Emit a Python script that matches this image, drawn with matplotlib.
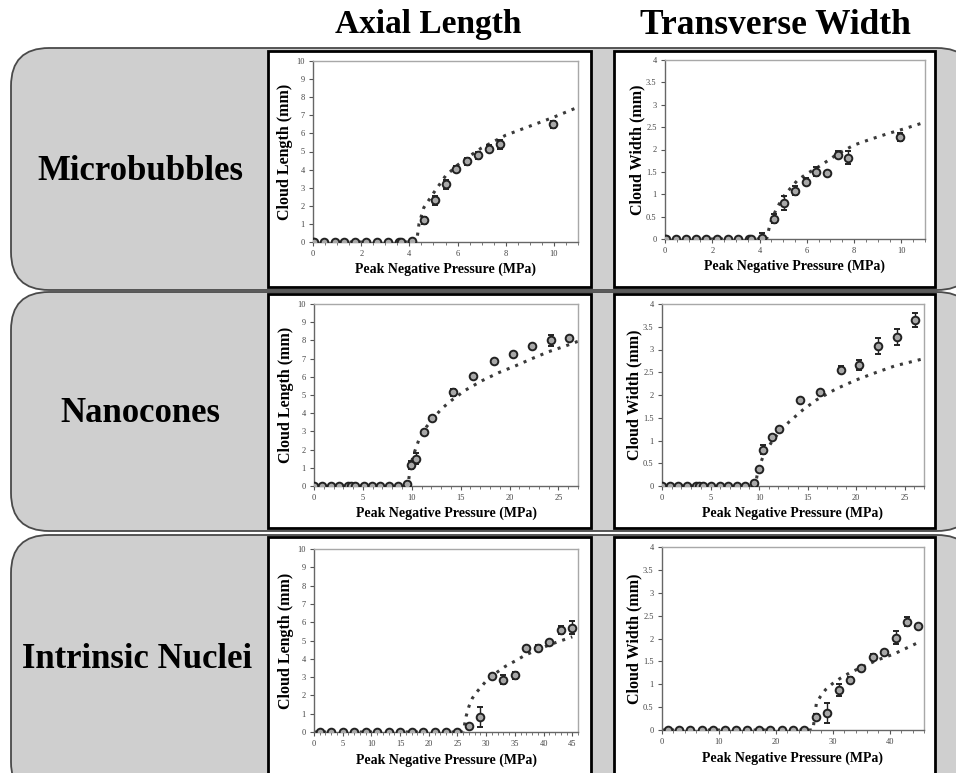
import numpy as np
import matplotlib
matplotlib.use('Agg')
import matplotlib.pyplot as plt
from matplotlib.patches import FancyBboxPatch, Rectangle
from matplotlib.ticker import MultipleLocator, FuncFormatter

plt.rcParams['font.family'] = ['Liberation Serif', 'DejaVu Serif']

# column / row headings
col_titles = ['Axial Length', 'Transverse Width']
row_titles = ['Microbubbles', 'Nanocones', 'Intrinsic Nuclei']

# microbubbles
mb_pressure = [0.0, 0.05, 0.45, 0.9, 1.3, 1.75, 2.2, 2.65, 3.1, 3.55, 3.65, 4.1,
               4.6, 5.05, 5.5, 5.95, 6.4, 6.85, 7.3, 7.75, 9.95]
mb_length = [0, 0, 0, 0, 0, 0, 0, 0, 0, 0, 0, 0.05,
             1.2, 2.3, 3.2, 4.05, 4.45, 4.8, 5.15, 5.4, 6.5]
mb_length_err = [0, 0, 0, 0, 0, 0, 0, 0, 0, 0, 0, 0.05,
                 0.2, 0.25, 0.25, 0.15, 0.2, 0.2, 0.2, 0.25, 0.2]
mb_width = [0, 0, 0, 0, 0, 0, 0, 0, 0, 0, 0, 0.02,
            0.45, 0.8, 1.08, 1.28, 1.5, 1.48, 1.88, 1.82, 2.28]
mb_width_err = [0, 0, 0, 0, 0, 0, 0, 0, 0, 0, 0, 0.12,
                0.1, 0.15, 0.1, 0.08, 0.1, 0.04, 0.08, 0.15, 0.08]
mb_fit_length_p = [0, 4.3, 4.4, 4.6, 5.0, 5.5, 6.0, 6.5, 7.0, 7.5, 8.0, 9.0, 10.0, 11.0]
mb_fit_length = [0, 0, 1.0, 1.9, 2.7, 3.65, 4.25, 4.75, 5.2, 5.55, 5.9, 6.4, 6.9, 7.45]
mb_fit_width_p = [0, 4.3, 4.45, 4.7, 5.0, 5.3, 5.6, 6.0, 6.4, 6.8, 7.3, 8.0, 8.7, 9.4, 10.1, 11.0]
mb_fit_width = [0, 0, 0.35, 0.66, 0.94, 1.13, 1.31, 1.46, 1.58, 1.72, 1.9, 2.1, 2.23, 2.35, 2.46, 2.61]

# nanocones
nc_pressure = [0.0, 0.85, 1.7, 2.6, 3.5, 3.8, 4.2, 5.1, 5.95, 6.8, 7.7, 8.6,
               9.5, 9.95, 10.4, 11.3, 12.1, 14.2, 16.3, 18.4, 20.35, 22.3, 24.2, 26.1]
nc_length = [0, 0, 0, 0, 0, 0, 0, 0, 0, 0, 0, 0,
             0.1, 1.15, 1.5, 2.95, 3.72, 5.15, 6.05, 6.85, 7.25, 7.7, 8.0, 8.15]
nc_length_err = [0, 0, 0, 0, 0, 0, 0, 0, 0, 0, 0, 0,
                 0.05, 0.2, 0.3, 0.1, 0.1, 0.2, 0.1, 0.1, 0.1, 0.1, 0.3, 0.1]
nc_width = [0, 0, 0, 0, 0, 0, 0, 0, 0, 0, 0, 0,
            0.07, 0.37, 0.8, 1.08, 1.25, 1.9, 2.07, 2.56, 2.66, 3.08, 3.28, 3.65]
nc_width_err = [0, 0, 0, 0, 0, 0, 0, 0, 0, 0, 0, 0,
                0.03, 0.04, 0.1, 0.05, 0.04, 0.04, 0.05, 0.08, 0.12, 0.18, 0.18, 0.15]
nc_fit_length_p = [0, 9.6, 9.9, 10.3, 10.7, 11.5, 12.4, 13.1, 14.1, 15.5, 17.2, 18.9,
                   20.6, 22.3, 24.0, 25.7, 27.0]
nc_fit_length = [0, 0, 1.2, 1.9, 2.5, 3.25, 3.85, 4.27, 4.72, 5.27, 5.79, 6.23,
                 6.6, 7.0, 7.38, 7.69, 7.95]
nc_fit_width_p = [0, 9.6, 9.9, 10.4, 11.3, 12.1, 13.1, 14.5, 15.9, 17.9, 20.0, 22.0, 24.0, 27.0]
nc_fit_width = [0, 0, 0.35, 0.64, 0.97, 1.19, 1.41, 1.67, 1.89, 2.13, 2.33, 2.49, 2.64, 2.8]

# intrinsic nuclei
in_pressure = [1, 3, 5, 7, 9, 11, 13, 15, 17, 19, 21, 23, 25,
               27, 29, 31, 33, 35, 37, 39, 41, 43, 45]
in_length = [0, 0, 0, 0, 0, 0, 0, 0, 0, 0, 0, 0, 0,
             0.35, 0.82, 3.04, 2.85, 3.09, 4.58, 4.6, 4.9, 5.58, 5.7]
in_length_err = [0, 0, 0, 0, 0, 0, 0, 0, 0, 0, 0, 0, 0,
                 0.1, 0.55, 0.1, 0.25, 0.2, 0.1, 0.15, 0.15, 0.2, 0.35]
in_width = [0, 0, 0, 0, 0, 0, 0, 0, 0, 0, 0, 0, 0,
            0.28, 0.38, 0.88, 1.09, 1.35, 1.59, 1.7, 2.02, 2.37, 2.27]
in_width_err = [0, 0, 0, 0, 0, 0, 0, 0, 0, 0, 0, 0, 0,
                0.07, 0.22, 0.13, 0.07, 0.05, 0.07, 0.04, 0.15, 0.1, 0.05]
in_fit_length_p = [0, 26.0, 26.5, 27.0, 27.6, 28.4, 29.3, 30.3, 31.6, 33.3, 35.1, 36.8,
                   39.2, 41.5, 45.0]
in_fit_length = [0, 0, 0.85, 1.4, 1.85, 2.2, 2.53, 2.9, 3.2, 3.58, 3.89, 4.2,
                 4.53, 4.82, 5.2]
in_fit_width_p = [0, 26.5, 27.1, 27.8, 28.7, 29.9, 31.3, 33.1, 35.4, 37.8, 40.7, 45.3]
in_fit_width = [0, 0, 0.58, 0.73, 0.88, 1.01, 1.13, 1.26, 1.39, 1.53, 1.66, 1.93]

W, H = 956, 773
fig = plt.figure(figsize=(W / 100, H / 100), dpi=100)

# background layer in pixel units
bg = fig.add_axes([0, 0, 1, 1])
bg.set_xlim(0, W)
bg.set_ylim(H, 0)
bg.axis('off')

row_boxes = [(48, 290), (292, 531), (535, 800)]
panel_rows = [(51, 287), (294, 528), (537, 800)]
panel_cols = [(268, 591), (614, 935)]
for (y0, y1) in row_boxes:
    bg.add_patch(FancyBboxPatch((11, y0), 975 - 11, y1 - y0,
                                boxstyle='round,pad=0,rounding_size=38',
                                fc='#cfcfcf', ec='#4a4a4a', lw=1.3))
for (y0, y1) in panel_rows:
    for (x0, x1) in panel_cols:
        bg.add_patch(Rectangle((x0, y0), x1 - x0, y1 - y0, fc='white', ec='black', lw=2))

bg.text(428, 25, col_titles[0], ha='center', va='center', fontsize=24, fontweight='bold')
bg.text(775, 25, col_titles[1], ha='center', va='center', fontsize=25.5, fontweight='bold')
for (x, y), name in zip([(140, 172), (140, 413), (137, 660)], row_titles):
    bg.text(x, y, name, ha='center', va='center', fontsize=25, fontweight='bold')

# axes boxes in pixels: left, right, top, bottom
ax_boxes = [
    [(313, 578, 61, 242), (665, 925, 60, 239)],
    [(314, 578, 304, 486), (662, 924, 304, 486)],
    [(314, 578, 549, 732), (662, 924, 547, 730)],
]

panels = [
    [(mb_pressure, mb_length, mb_length_err, mb_fit_length_p, mb_fit_length),
     (mb_pressure, mb_width, mb_width_err, mb_fit_width_p, mb_fit_width)],
    [(nc_pressure, nc_length, nc_length_err, nc_fit_length_p, nc_fit_length),
     (nc_pressure, nc_width, nc_width_err, nc_fit_width_p, nc_fit_width)],
    [(in_pressure, in_length, in_length_err, in_fit_length_p, in_fit_length),
     (in_pressure, in_width, in_width_err, in_fit_width_p, in_fit_width)],
]

xmax = [11, 27, 46]
xmajor = [[2, 2], [5, 5], [5, 10]]
xminor = [[0.5, 0.5], [1, 1], [1, 2]]
fmt = FuncFormatter(lambda v, pos: f'{v:g}')

for r in range(3):
    for c in range(2):
        l, rt, t, b = ax_boxes[r][c]
        ax = fig.add_axes([l / W, 1 - b / H, (rt - l) / W, (b - t) / H])
        p, y, err, fp, fy = panels[r][c]

        ax.plot(fp, fy, linestyle=(0, (1, 2)), color='#3a3a3a', lw=2.2, zorder=2)
        ax.errorbar(p, y, yerr=err, fmt='o', ms=5.5, mfc='#a8a8a8', mec='#222222', mew=1.4,
                    ecolor='#222222', elinewidth=1, capsize=2, zorder=3)

        ax.set_xlim(0, xmax[r])
        if c == 0:
            ax.set_ylim(0, 10)
            ax.yaxis.set_major_locator(MultipleLocator(1))
            ax.set_ylabel('Cloud Length (mm)', fontsize=11.5, fontweight='bold')
        else:
            ax.set_ylim(0, 4)
            ax.yaxis.set_major_locator(MultipleLocator(0.5))
            ax.set_ylabel('Cloud Width (mm)', fontsize=11.5, fontweight='bold')
        ax.xaxis.set_major_locator(MultipleLocator(xmajor[r][c]))
        ax.xaxis.set_minor_locator(MultipleLocator(xminor[r][c]))
        ax.xaxis.set_major_formatter(fmt)
        ax.yaxis.set_major_formatter(fmt)
        ax.set_xlabel('Peak Negative Pressure (MPa)', fontsize=10, fontweight='bold')
        ax.yaxis.set_label_coords(-0.075, 0.5)
        ax.xaxis.set_label_coords(0.5, -0.115)

        ax.tick_params(labelsize=6, colors='#555555', length=3, width=0.8, direction='out', pad=3)
        ax.tick_params(axis='x', which='minor', length=2, width=0.7, colors='#777777')
        for side in ['left', 'bottom']:
            ax.spines[side].set_color('#666666')
            ax.spines[side].set_linewidth(1)
        for side in ['top', 'right']:
            ax.spines[side].set_color('#a8a8a8')
            ax.spines[side].set_linewidth(1)
        for lab in ax.get_xticklabels() + ax.get_yticklabels():
            lab.set_color('#444444')

fig.savefig('out.png', dpi=100)
